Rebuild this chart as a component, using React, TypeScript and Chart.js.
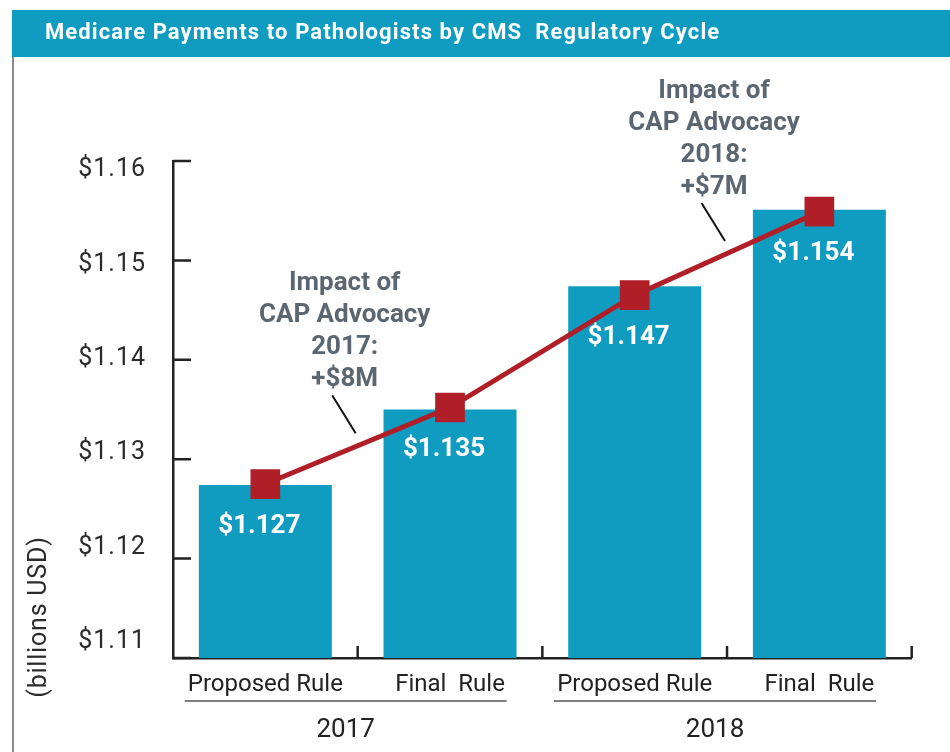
import React, { useEffect, useRef } from "react";
import { Chart, registerables } from "chart.js";
Chart.register(...registerables);

const chartTitle = "Medicare Payments to Pathologists by CMS  Regulatory Cycle";
const yAxisTitle = "(billions USD)";
const categories = ["Proposed Rule", "Final  Rule", "Proposed Rule", "Final  Rule"];
const years = ["2017", "2018"];
const barValues = [1.1274, 1.135, 1.1474, 1.1551];
const lineValues = [1.1275, 1.1352, 1.1465, 1.1549];
const valueLabels = ["$1.127", "$1.135", "$1.147", "$1.154"];
const yTicks = [1.11, 1.12, 1.13, 1.14, 1.15, 1.16];
const impactLabels = [
  ["Impact of", "CAP Advocacy", "2017:", "+$8M"],
  ["Impact of", "CAP Advocacy", "2018:", "+$7M"],
];

const TEAL = "#109cc0";
const RED = "#b01e28";
const AXIS = "#222222";
const FONT = "Roboto, 'Noto Sans', sans-serif";

const decorPlugin = {
  id: "decor",
  beforeDraw(chart: any) {
    const ctx = chart.ctx;
    ctx.save();
    ctx.fillStyle = "#ffffff";
    ctx.fillRect(0, 0, chart.width, chart.height);
    // title bar
    ctx.fillStyle = TEAL;
    ctx.fillRect(12, 10, chart.width - 12, 47);
    ctx.fillStyle = "#ffffff";
    ctx.font = `bold 22px ${FONT}`;
    (ctx as any).letterSpacing = "1.1px";
    ctx.textAlign = "left";
    ctx.textBaseline = "middle";
    ctx.fillText(chartTitle, 45, 33);
    (ctx as any).letterSpacing = "0px";
    // left frame line
    ctx.strokeStyle = "#666666";
    ctx.lineWidth = 1.5;
    ctx.beginPath();
    ctx.moveTo(13, 57);
    ctx.lineTo(13, chart.height);
    ctx.stroke();
    ctx.restore();
  },
  afterDraw(chart: any) {
    const ctx = chart.ctx;
    const area = chart.chartArea;
    const xs = chart.scales.x;
    const ys = chart.scales.y;
    ctx.save();
    // inward ticks on y axis
    ctx.strokeStyle = AXIS;
    ctx.lineWidth = 2.5;
    ctx.beginPath();
    yTicks.forEach((v) => {
      const y = ys.getPixelForValue(v);
      ctx.moveTo(area.left, y);
      ctx.lineTo(area.left + 18, y);
    });
    // inward ticks on x axis at category boundaries
    const n = categories.length;
    const catW = (area.right - area.left) / n;
    for (let i = 1; i <= n; i++) {
      const x = area.left + catW * i;
      ctx.moveTo(x, area.bottom);
      ctx.lineTo(x, area.bottom - 12);
    }
    ctx.stroke();

    // y tick labels (slightly compressed spacing as in the original)
    const mid = (area.top + area.bottom) / 2;
    ctx.fillStyle = "#2b2b2b";
    ctx.font = `25px ${FONT}`;
    (ctx as any).letterSpacing = "1px";
    ctx.textAlign = "right";
    ctx.textBaseline = "middle";
    yTicks.forEach((v) => {
      const ty = ys.getPixelForValue(v);
      const ly = mid + (ty - mid) * 0.95 - 3.5;
      ctx.fillText("$" + v.toFixed(2), area.left - 27, ly);
    });
    (ctx as any).letterSpacing = "0px";

    // value labels inside bars
    const lineMeta = chart.getDatasetMeta(1);
    ctx.fillStyle = "#ffffff";
    ctx.font = `bold 26px ${FONT}`;
    ctx.textAlign = "center";
    ctx.textBaseline = "middle";
    lineMeta.data.forEach((pt: any, i: number) => {
      ctx.fillText(valueLabels[i], pt.x - 6, pt.y + 42);
    });

    // impact annotations
    impactLabels.forEach((lines, g) => {
      const a = lineMeta.data[g * 2];
      const b = lineMeta.data[g * 2 + 1];
      const mx = (a.x + b.x) / 2;
      const my = (a.y + b.y) / 2;
      ctx.strokeStyle = "#111111";
      ctx.lineWidth = 2;
      ctx.beginPath();
      ctx.moveTo(mx - 2, my - 12.5);
      ctx.lineTo(mx - 25.5, my - 50.5);
      ctx.stroke();
      ctx.fillStyle = "#5b6670";
      ctx.font = `bold 26px ${FONT}`;
      ctx.textAlign = "center";
      ctx.textBaseline = "middle";
      const lastY = my - 66;
      lines.forEach((t, k) => {
        ctx.fillText(t, mx - 13, lastY - (lines.length - 1 - k) * 32);
      });
    });

    // year groups
    years.forEach((yr, g) => {
      const x0 = xs.getPixelForValue(g * 2);
      const x1 = xs.getPixelForValue(g * 2 + 1);
      const cx = (x0 + x1) / 2 - 12;
      ctx.strokeStyle = "#555555";
      ctx.lineWidth = 1.5;
      ctx.beginPath();
      ctx.moveTo(cx - 161, area.bottom + 43);
      ctx.lineTo(cx + 161, area.bottom + 43);
      ctx.stroke();
      ctx.fillStyle = "#222222";
      ctx.font = `26px ${FONT}`;
      ctx.textAlign = "center";
      ctx.textBaseline = "middle";
      ctx.fillText(yr, cx, area.bottom + 72);
    });

    // y axis title
    ctx.save();
    ctx.translate(40, area.bottom - 41);
    ctx.rotate(-Math.PI / 2);
    ctx.fillStyle = "#2b2b2b";
    ctx.font = `25px ${FONT}`;
    (ctx as any).letterSpacing = "0.8px";
    ctx.textAlign = "center";
    ctx.textBaseline = "middle";
    ctx.fillText(yAxisTitle, 0, 0);
    (ctx as any).letterSpacing = "0px";
    ctx.restore();

    ctx.restore();
  },
};

export default function App() {
  const ref = useRef<HTMLCanvasElement | null>(null);
  useEffect(() => {
    if (!ref.current) return;
    const chart = new Chart(ref.current, {
      type: "bar",
      data: {
        labels: categories,
        datasets: [
          {
            type: "bar",
            data: barValues,
            backgroundColor: TEAL,
            borderWidth: 0,
            categoryPercentage: 1,
            barPercentage: 0.72,
            order: 2,
          } as any,
          {
            type: "line",
            data: lineValues,
            borderColor: RED,
            borderWidth: 5,
            backgroundColor: RED,
            pointStyle: "rect",
            pointRadius: 21,
            pointBackgroundColor: RED,
            pointBorderWidth: 0,
            order: 1,
          } as any,
        ],
      },
      options: {
        responsive: false,
        animation: false,
        layout: { padding: { left: 0, top: 161, right: 38.3, bottom: 0 } },
        plugins: { legend: { display: false }, tooltip: { enabled: false } },
        scales: {
          x: {
            type: "category",
            offset: true,
            grid: { display: false, drawTicks: false },
            border: { display: true, color: AXIS, width: 2.5 },
            ticks: {
              color: "#222222",
              font: { family: FONT, size: 24 },
              padding: 13,
              maxRotation: 0,
              autoSkip: false,
            },
            afterFit: (s: any) => {
              s.height = 94;
            },
          },
          y: {
            type: "linear",
            min: 1.11,
            max: 1.16,
            grid: { display: false, drawTicks: false },
            border: { display: true, color: AXIS, width: 2.5 },
            afterBuildTicks: (s: any) => {
              s.ticks = yTicks.map((v) => ({ value: v }));
            },
            ticks: { display: false },
            afterFit: (s: any) => {
              s.width = 173;
            },
          },
        },
      },
      plugins: [decorPlugin],
    });
    return () => chart.destroy();
  }, []);
  return (
    <canvas
      ref={ref}
      width={950}
      height={752}
      style={{ position: "absolute", left: 0, top: 0, width: 950, height: 752 }}
    />
  );
}
